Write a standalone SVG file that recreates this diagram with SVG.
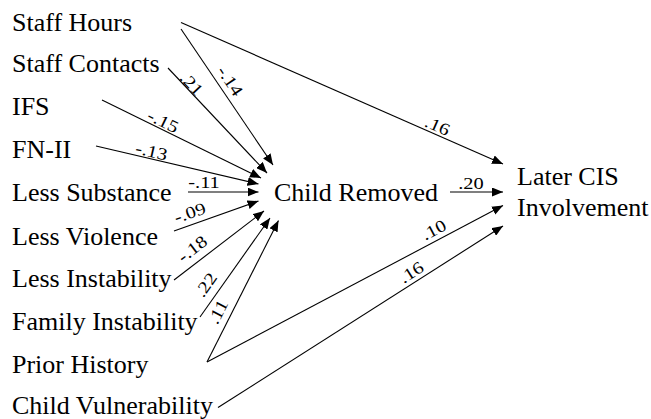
<svg xmlns="http://www.w3.org/2000/svg" width="651" height="419" viewBox="0 0 651 419">
<style>
.n{font-size:26px;fill:#000;font-family:"Liberation Serif",serif !important}
.w{font-size:17px;fill:#000;text-anchor:middle;font-family:"Liberation Serif",serif !important}
.c line{stroke:#000;stroke-width:1.1;marker-end:url(#ah)}
</style>
<defs>
<marker id="ah" markerUnits="userSpaceOnUse" markerWidth="11" markerHeight="9" refX="11" refY="4.5" orient="auto">
<path d="M0,0 L11,4.5 L0,9 z" fill="#000"/>
</marker>
</defs>
<rect width="651" height="419" fill="#fff"/>
<g id="staff-hours"><text class="n" style="font-family:'Liberation Serif',serif" x="12" y="31">Staff Hours</text></g>
<g id="staff-contacts"><text class="n" style="font-family:'Liberation Serif',serif" x="12" y="72">Staff Contacts</text></g>
<g id="ifs"><text class="n" style="font-family:'Liberation Serif',serif" x="12" y="115">IFS</text></g>
<g id="fn-ii"><text class="n" style="font-family:'Liberation Serif',serif" x="12" y="158">FN-II</text></g>
<g id="less-substance"><text class="n" style="font-family:'Liberation Serif',serif" x="12" y="201">Less Substance</text></g>
<g id="less-violence"><text class="n" style="font-family:'Liberation Serif',serif" x="12" y="245">Less Violence</text></g>
<g id="less-instability"><text class="n" style="font-family:'Liberation Serif',serif" x="12" y="287">Less Instability</text></g>
<g id="family-instability"><text class="n" style="font-family:'Liberation Serif',serif" x="12" y="330">Family Instability</text></g>
<g id="prior-history"><text class="n" style="font-family:'Liberation Serif',serif" x="12" y="373">Prior History</text></g>
<g id="child-vulnerability"><text class="n" style="font-family:'Liberation Serif',serif" x="12" y="414">Child Vulnerability</text></g>
<g id="child-removed"><text class="n" style="font-family:'Liberation Serif',serif" x="274" y="201">Child Removed</text></g>
<g id="later-cis"><text class="n" style="font-family:'Liberation Serif',serif" x="517" y="185">Later CIS</text><text class="n" style="font-family:'Liberation Serif',serif" x="517" y="216">Involvement</text></g>
<g id="connectors" class="c">
<line x1="181" y1="22.5" x2="503" y2="164"/>
<line x1="181" y1="29" x2="273" y2="165"/>
<line x1="168" y1="68" x2="267" y2="173"/>
<line x1="102" y1="100" x2="261" y2="178"/>
<line x1="96" y1="146" x2="258.5" y2="184"/>
<line x1="188" y1="192" x2="258.5" y2="192"/>
<line x1="174" y1="231" x2="258.5" y2="201"/>
<line x1="174" y1="280" x2="264" y2="211"/>
<line x1="200" y1="317" x2="270" y2="218"/>
<line x1="207" y1="362" x2="278.5" y2="220.5"/>
<line x1="207" y1="362" x2="503" y2="205.5"/>
<line x1="218" y1="407.5" x2="503" y2="226"/>
<line x1="450" y1="192" x2="503" y2="192"/>
</g>
<g id="edge-labels">
<text class="w" style="font-family:'Liberation Serif',serif" transform="translate(230,81) rotate(56) scale(1.2,1)" y="5.5">-.14</text>
<text class="w" style="font-family:'Liberation Serif',serif" transform="translate(191.5,84) rotate(46.7) scale(1.2,1)" y="5.5">.21</text>
<text class="w" style="font-family:'Liberation Serif',serif" transform="translate(163,121.5) rotate(26) scale(1.2,1)" y="5.5">-.15</text>
<text class="w" style="font-family:'Liberation Serif',serif" transform="translate(151.5,151.5) rotate(13) scale(1.2,1)" y="5.5">-.13</text>
<text class="w" style="font-family:'Liberation Serif',serif" transform="translate(204,182.5) scale(1.2,1)" y="5.5">-.11</text>
<text class="w" style="font-family:'Liberation Serif',serif" transform="translate(190,213) rotate(-19.4) scale(1.2,1)" y="5.5">-.09</text>
<text class="w" style="font-family:'Liberation Serif',serif" transform="translate(192.5,249) rotate(-37.5) scale(1.2,1)" y="5.5">-.18</text>
<text class="w" style="font-family:'Liberation Serif',serif" transform="translate(206,285) rotate(-54.8) scale(1.2,1)" y="5.5">.22</text>
<text class="w" style="font-family:'Liberation Serif',serif" transform="translate(218,312) rotate(-63.2) scale(1.2,1)" y="5.5">.11</text>
<text class="w" style="font-family:'Liberation Serif',serif" transform="translate(437.5,126) rotate(23.7) scale(1.2,1)" y="5.5">.16</text>
<text class="w" style="font-family:'Liberation Serif',serif" transform="translate(471,183.5) scale(1.2,1)" y="5.5">.20</text>
<text class="w" style="font-family:'Liberation Serif',serif" transform="translate(434,230) rotate(-27.9) scale(1.2,1)" y="5.5">.10</text>
<text class="w" style="font-family:'Liberation Serif',serif" transform="translate(411.5,272.5) rotate(-32.4) scale(1.2,1)" y="5.5">.16</text>
</g>
</svg>
